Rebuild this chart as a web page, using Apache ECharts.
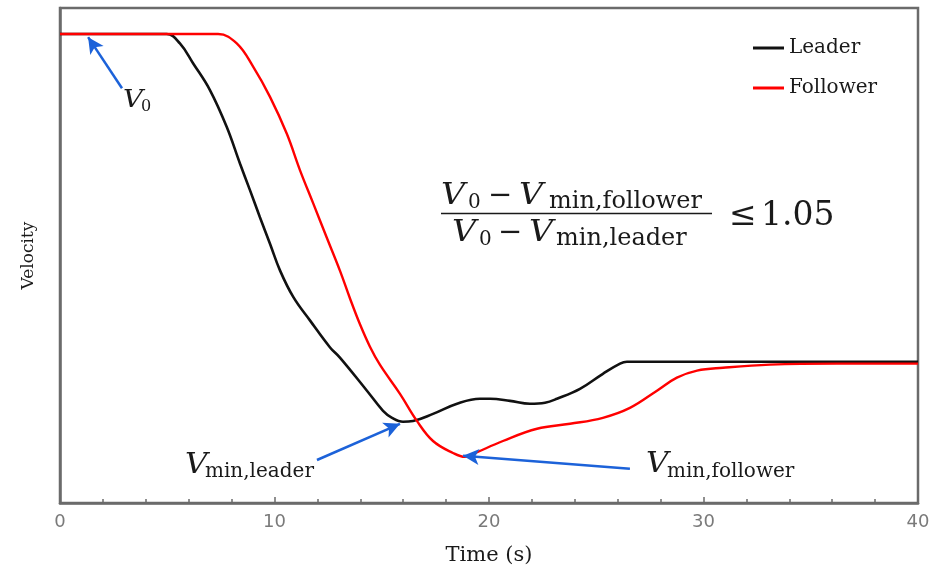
<!DOCTYPE html>
<html>
<head>
<meta charset="utf-8">
<script src="https://cdn.jsdelivr.net/npm/echarts@6/dist/echarts.min.js"></script>
<style>
  html, body { margin: 0; padding: 0; background: #ffffff; }
  #chart { width: 930px; height: 567px; }
</style>
</head>
<body>
<div id="chart"></div>
<script>
// Leader / follower velocity traces (time in s, velocity in arbitrary units)
const leaderTime = [0, 4.97, 5.59, 6.21, 6.99, 7.77, 8.39, 8.86, 9.32, 9.79, 10.26, 10.88, 11.66, 12.59, 13.05, 14.31, 15.06, 15.48, 15.99, 16.46, 17.39, 18.51, 19.58, 20.05, 20.98, 21.91, 22.61, 23.17, 24.24, 25.31, 26.11, 26.43, 40];
const leaderVelocity = [20, 20, 19.64, 18.87, 17.85, 16.44, 15.03, 14.00, 12.97, 11.95, 10.92, 9.90, 9.00, 7.97, 7.58, 6.31, 5.54, 5.27, 5.12, 5.15, 5.42, 5.81, 6.00, 6.00, 5.92, 5.81, 5.85, 6.00, 6.38, 6.96, 7.35, 7.42, 7.42];

const followerTime = [0, 7.37, 8.24, 9.01, 9.79, 10.57, 11.19, 11.81, 12.43, 13.05, 13.52, 13.99, 14.45, 14.92, 15.85, 16.64, 17.39, 18.32, 18.88, 19.25, 20.65, 22.24, 23.78, 25.31, 26.57, 27.83, 28.76, 29.70, 30.91, 33.10, 36.22, 40];
const followerVelocity = [20, 20, 19.64, 18.74, 17.59, 16.18, 14.77, 13.49, 12.20, 10.92, 9.85, 8.85, 8.00, 7.30, 6.19, 5.15, 4.38, 3.92, 3.77, 3.88, 4.38, 4.85, 5.04, 5.27, 5.65, 6.31, 6.81, 7.08, 7.19, 7.31, 7.35, 7.35];

const xTicks = { min: 0, max: 40, interval: 10 };
const seriesNames = ['Leader', 'Follower'];

// Annotation arrows: [tailTime, tailVelocity, tipTime, tipVelocity]
const arrowV0 = [2.89, 17.92, 1.31, 19.88];
const arrowLeaderMin = [11.98, 3.65, 15.85, 5.04];
const arrowFollowerMin = [26.57, 3.31, 18.79, 3.81];

const zip = (a, b) => a.map((v, i) => [v, b[i]]);
const arrow = (a) => [{ coord: [a[0], a[1]] }, { coord: [a[2], a[3]] }];

const SERIF = '"DejaVu Serif"';
const INK = '#1a1a1a';
const FRAME = '#6b6b6b';

// one text piece placed by its baseline; italic symbols are widened a little
function piece(text, x, baseline, size, italic) {
  return {
    type: 'text', x: x, y: baseline - 0.3 * size, silent: true, z: 100,
    scaleX: italic ? 1.15 : 1,
    style: {
      text: text, fill: INK,
      font: (italic ? 'italic ' : '') + size + 'px ' + SERIF,
      align: 'left', verticalAlign: 'middle',
      textAlign: 'left', textVerticalAlign: 'middle'
    }
  };
}

const graphics = [
  // V0 label
  piece('V', 123, 108, 24, true),
  piece('0', 141, 112, 16, false),
  // V min,leader
  piece('V', 185, 474, 27, true),
  piece('min,leader', 205, 478, 20, false),
  // V min,follower
  piece('V', 646, 473, 27, true),
  piece('min,follower', 667, 478, 20, false),
  // ratio: numerator
  piece('V', 441, 205, 29, true),
  piece('0', 468, 209, 20, false),
  piece('\u2212', 488, 205, 29, false),
  piece('V', 519, 205, 29, true),
  piece('min,follower', 549, 209, 24, false),
  // ratio: denominator
  piece('V', 452, 242, 29, true),
  piece('0', 479, 246, 20, false),
  piece('\u2212', 498, 242, 29, false),
  piece('V', 529, 242, 29, true),
  piece('min,leader', 556, 246, 24, false),
  // fraction bar
  {
    type: 'line', silent: true, z: 100,
    shape: { x1: 441, y1: 213.5, x2: 712, y2: 213.5 },
    style: { stroke: INK, lineWidth: 1.6 }
  },
  piece('\u2264', 729, 226, 33, false),
  piece('1.05', 761, 226, 33, false)
];

const chart = echarts.init(document.getElementById('chart'), null, { renderer: 'canvas' });

chart.setOption({
  animation: false,
  backgroundColor: '#ffffff',
  grid: {
    left: 60, right: 12, top: 8, bottom: 64,
    outerBoundsMode: 'none', containLabel: false,
    show: true, borderColor: FRAME, borderWidth: 2.5, backgroundColor: 'transparent'
  },
  legend: {
    data: seriesNames.map((n) => ({ name: n, icon: 'rect' })),
    orient: 'vertical',
    left: 748, top: 33,
    itemWidth: 31, itemHeight: 3, itemGap: 20,
    textStyle: { fontFamily: SERIF, fontSize: 20, color: INK, lineHeight: 20 }
  },
  xAxis: {
    type: 'value',
    min: xTicks.min, max: xTicks.max, interval: xTicks.interval,
    name: 'Time (s)', nameLocation: 'middle', nameGap: 42,
    nameTextStyle: { fontFamily: SERIF, fontSize: 21, color: INK },
    axisLine: { show: true, lineStyle: { color: FRAME, width: 2.5 } },
    axisTick: { show: true, inside: true, length: 6, lineStyle: { color: FRAME, width: 1.5 } },
    minorTick: { show: true, splitNumber: 5, length: 4, lineStyle: { color: FRAME, width: 1.5 } },
    axisLabel: { color: '#7a7a7a', fontFamily: '"DejaVu Sans"', fontSize: 18, margin: 10 },
    splitLine: { show: false }
  },
  yAxis: {
    type: 'value', min: 2, max: 21,
    name: 'Velocity', nameLocation: 'middle', nameGap: 23, nameRotate: 90,
    nameTextStyle: { fontFamily: SERIF, fontSize: 17, color: INK },
    axisLine: { show: true, lineStyle: { color: FRAME, width: 2.5 } },
    axisTick: { show: false },
    axisLabel: { show: false },
    splitLine: { show: false }
  },
  series: [
    {
      name: seriesNames[0], type: 'line',
      data: zip(leaderTime, leaderVelocity),
      showSymbol: false, symbol: 'none',
      smooth: 0.4,
      lineStyle: { color: '#111111', width: 2.6 },
      itemStyle: { color: '#111111' },
      z: 3,
      markLine: {
        silent: true, animation: false,
        symbol: ['none', 'arrow'], symbolSize: [12, 16],
        label: { show: false },
        lineStyle: { color: '#1c62d9', width: 2.5, type: 'solid' },
        emphasis: { disabled: true },
        data: [arrow(arrowV0), arrow(arrowLeaderMin), arrow(arrowFollowerMin)]
      }
    },
    {
      name: seriesNames[1], type: 'line',
      data: zip(followerTime, followerVelocity),
      showSymbol: false, symbol: 'none',
      smooth: 0.4,
      lineStyle: { color: '#ff0000', width: 2.4 },
      itemStyle: { color: '#ff0000' },
      z: 4
    }
  ],
  graphic: graphics
});
</script>
</body>
</html>
